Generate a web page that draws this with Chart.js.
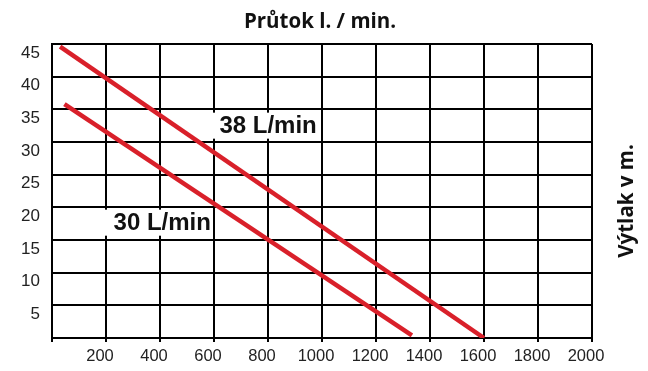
<!DOCTYPE html>
<html>
<head>
<meta charset="utf-8">
<script src="https://cdn.jsdelivr.net/npm/chart.js@4"></script>
<style>
  html, body { margin: 0; padding: 0; background: #fff; }
  #wrap { width: 648px; height: 371px; position: relative; }
</style>
</head>
<body>
<div id="wrap"><canvas id="pumpChart"></canvas></div>
<script>
// flow (l/min on x) vs head (m on y)
const flow38 = [30, 1600];
const head38 = [44.6, 0];
const flow30 = [46, 1333];
const head30 = [35.8, 0.4];
const seriesNames = ["38 L/min", "30 L/min"];
const xTicks = [0, 200, 400, 600, 800, 1000, 1200, 1400, 1600, 1800, 2000];
const yTicks = [0, 5, 10, 15, 20, 25, 30, 35, 40, 45];
const chartTitle = "Průtok l. / min.";
const sideTitle = "Výtlak v m.";

const RED = "#d9202a";

function toPoints(xs, ys) {
    return xs.map((x, i) => ({ x: x, y: ys[i] }));
}

// 🔹 labels, titles and white text boxes
const labelPlugin = {
    id: "labelPlugin",
    afterDatasetsDraw(chart) {
        const ctx = chart.ctx;
        const xs = chart.scales.x, ys = chart.scales.y;
        const notes = [
            { text: seriesNames[0], x: 620, y: 32.5 },
            { text: seriesNames[1], x: 228, y: 17.65 }
        ];
        ctx.save();
        ctx.font = "bold 24px 'Liberation Sans', Arial, sans-serif";
        ctx.textBaseline = "middle";
        ctx.textAlign = "left";
        notes.forEach(n => {
            const px = xs.getPixelForValue(n.x);
            const py = ys.getPixelForValue(n.y);
            const w = ctx.measureText(n.text).width;
            ctx.fillStyle = "#fff";
            ctx.fillRect(px - 10, py - 13, w + 6, 26);
            ctx.fillStyle = "#111";
            ctx.fillText(n.text, px, py + 1);
        });

        ctx.font = "bold 20.5px 'Open Sans', sans-serif";
        ctx.textAlign = "center";
        ctx.fillStyle = "#111";
        ctx.fillText(chartTitle, 320, 22);

        ctx.translate(627, 201);
        ctx.rotate(-Math.PI / 2);
        ctx.fillText(sideTitle, 0, 0);
        ctx.restore();
    }
};

new Chart(document.getElementById("pumpChart"), {
    type: "scatter",
    data: {
        datasets: [
            {
                label: seriesNames[0],
                data: toPoints(flow38, head38),
                showLine: true,
                borderColor: RED,
                borderWidth: 4.5,
                borderCapStyle: "butt",
                pointRadius: 0
            },
            {
                label: seriesNames[1],
                data: toPoints(flow30, head30),
                showLine: true,
                borderColor: RED,
                borderWidth: 4.5,
                borderCapStyle: "butt",
                pointRadius: 0
            }
        ]
    },
    options: {
        responsive: true,
        maintainAspectRatio: false,
        animation: false,
        layout: { padding: { left: 0, right: 56, top: 44, bottom: 0 } },
        scales: {
            x: {
                type: "linear",
                min: 0,
                max: 2000,
                afterBuildTicks: s => { s.ticks = xTicks.map(v => ({ value: v })); },
                afterFit: s => { s.height = 33; },
                ticks: {
                    callback: v => (v === 0 ? "" : v),
                    color: "#222",
                    font: { family: "'Liberation Sans', Arial, sans-serif", size: 16.5 },
                    padding: 5,
                    labelOffset: -6,
                    maxRotation: 0
                },
                grid: { color: "#000", lineWidth: 2, tickLength: 4 },
                border: { color: "#000", width: 2 }
            },
            y: {
                min: 0,
                max: 45,
                afterBuildTicks: s => { s.ticks = yTicks.map(v => ({ value: v })); },
                afterFit: s => { s.width = 52; },
                ticks: {
                    callback: v => (v === 0 ? "" : v),
                    color: "#222",
                    font: { family: "'Liberation Sans', Arial, sans-serif", size: 17 },
                    padding: 12,
                    labelOffset: 9
                },
                grid: { color: "#000", lineWidth: 2, drawTicks: false },
                border: { color: "#000", width: 2 }
            }
        },
        plugins: {
            legend: { display: false },
            tooltip: { enabled: false }
        }
    },
    plugins: [labelPlugin]
});
</script>
</body>
</html>
